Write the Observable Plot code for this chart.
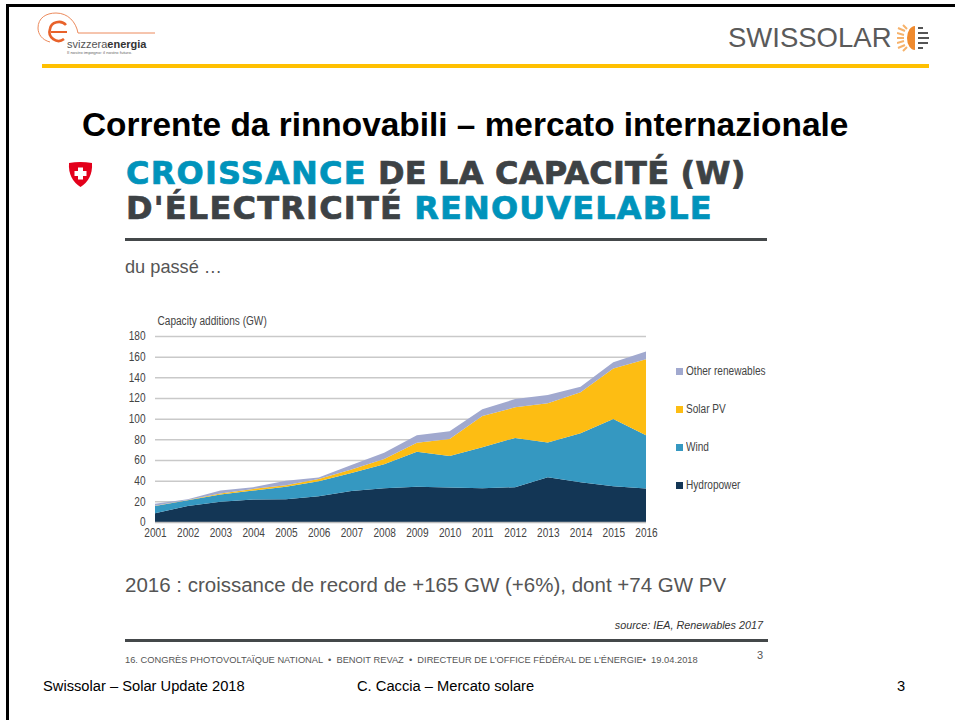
<!DOCTYPE html>
<html><head><meta charset="utf-8">
<script src="https://cdn.jsdelivr.net/npm/d3@7"></script>
<script src="https://cdn.jsdelivr.net/npm/@observablehq/plot@0.6"></script>
<style>
html,body{margin:0;padding:0;background:#fff;}
#page{position:relative;width:955px;height:720px;overflow:hidden;font-family:"Liberation Sans",Arial,sans-serif;background:#fff;}
#page>div,#page>svg{position:absolute;white-space:pre;}
.line{line-height:1;}
#chart{left:100px;top:310px;}
#chart svg{overflow:visible;}
.leg{font-size:12px;color:#444;line-height:12px;left:676px;}
.leg i{display:inline-block;width:7px;height:7px;margin-right:3px;vertical-align:0px;}
.leg span{display:inline-block;transform:scaleX(.84);transform-origin:left center;}
.hd{font-family:'DejaVu Sans';font-weight:700;font-size:32px;color:#3d4245;-webkit-text-stroke:.7px currentColor;}
.hd .b{color:#0093bb;}
</style></head><body>
<div id="page">
<div style="left:7px;top:4px;width:948px;height:3px;background:#000"></div>
<div style="left:6px;top:4px;width:3px;height:716px;background:#000"></div>

<svg style="left:36px;top:10px" width="130" height="48" viewBox="0 0 130 48">
<g fill="none" stroke="#ec8a5c">
<path d="M14 32 C6 30 2 24 2 18 C2 8 10 3 20 3 C32 3 40 12 42 23 H119" stroke-width="1"/>
<path d="M30 15 A9 8 0 0 0 14 19 A9 9 0 0 0 28 29" stroke="#e8622a" stroke-width="2.6"/>
<path d="M15 22 H31" stroke="#e8622a" stroke-width="2"/>
</g>
<text x="31" y="38" font-family="Liberation Sans" font-size="11" fill="#555">svizzera<tspan font-weight="700" fill="#333">energia</tspan></text>
<text x="31" y="44" font-family="Liberation Sans" font-size="4.4" fill="#666">Il nostro impegno: il nostro futuro.</text>
</svg>
<div class="line" style="left:42px;top:64px;width:887px;height:4px;background:#ffc000"></div>
<div class="line" style="left:728px;top:24px;font-size:27.5px;color:#5a5a5a">SWISSOLAR</div>
<svg style="left:897px;top:24px" width="34" height="28" viewBox="0 0 34 28">
<path d="M18 2 A8 12 0 0 0 18 26 Z" fill="#ef8a2e"/>
<g stroke="#f6b26b" stroke-width="2"><path d="M1 4 L8 7M0 9 L7 11M0 14 H7M0 19 L7 17M1 24 L8 21M6 1 L10 5M6 27 L10 23"/></g>
<g stroke="#555" stroke-width="2.2"><path d="M21 4 H26M21 9 H31M21 14 H32M21 19 H31M21 24 H26"/></g>
</svg>

<div class="line" style="left:82px;top:108px;font-size:33.4px;font-weight:700;color:#000">Corrente da rinnovabili – mercato internazionale</div>

<svg style="left:68px;top:161px" width="26" height="27" viewBox="0 0 26 27">
<path d="M1 2 Q12 0 24 2 Q25 18 12.5 26 Q0 18 1 2 Z" fill="#e3001b"/>
<path d="M10 7 H15 V10.500 H18.500 V15.500 H15 V19 H10 V15.500 H6.500 V10.500 H10 Z" fill="#fff" transform="translate(0,-.5)"/>
</svg>
<div class="line hd" style="left:126px;top:157px"><span class="b" style="letter-spacing:1.2px">CROISSANCE</span> <span style="letter-spacing:.2px">DE LA CAPACITÉ (W)</span></div>
<div class="line hd" style="left:126px;top:192px"><span style="letter-spacing:1.2px">D'ÉLECTRICITÉ</span> <span class="b" style="letter-spacing:1.15px">RENOUVELABLE</span></div>
<div style="left:125px;top:238px;width:642px;height:3px;background:#44484a"></div>
<div class="line" style="left:125px;top:258px;font-size:18.2px;color:#555">du passé …</div>

<div id="chart"></div>

<div class="line" style="left:125px;top:575px;font-size:20.5px;color:#555">2016 : croissance de record de +165 GW (+6%), dont +74 GW PV</div>
<div class="line" style="right:192px;top:620px;font-size:10.8px;font-style:italic;color:#333">source: IEA, Renewables 2017</div>
<div style="left:125px;top:639px;width:643px;height:3px;background:#44484a"></div>
<div class="line" style="left:125px;top:656px;font-size:9.3px;color:#555">16. CONGRÈS PHOTOVOLTAÏQUE NATIONAL  •  BENOIT REVAZ  •  DIRECTEUR DE L'OFFICE FÉDÉRAL DE L'ÉNERGIE•  19.04.2018</div>
<div class="line" style="left:757px;top:650px;font-size:11px;color:#555">3</div>
<div class="line" style="left:43px;top:679px;font-size:14.7px;color:#000">Swissolar – Solar Update 2018</div>
<div class="line" style="left:357px;top:679px;font-size:14.7px;color:#000">C. Caccia – Mercato solare</div>
<div class="line" style="left:897px;top:679px;font-size:14.7px;color:#000">3</div>
</div>
<script>
const years = [2001,2002,2003,2004,2005,2006,2007,2008,2009,2010,2011,2012,2013,2014,2015,2016];
const hydropower = [8.5,15.5,19.6,21.8,22,25,30,32.7,34,33.3,32.6,33.7,43.3,38.5,34.6,32.4];
const wind = [7,5.5,7,8.7,12,14.5,17.5,23.3,34,30.5,39.8,47.7,33.7,47.5,65,51.6];
const solarPV = [0.2,0.2,0.9,1.5,1.5,2,3.2,5,8.7,16.5,30.2,29.6,38,39.5,48.9,73.5];
const otherRenewables = [2,0.8,3,1.7,4.5,1.5,4.5,6,7.3,7.5,6.4,8,8,5.5,6,7.5];
const seriesNames = ["Hydropower","Wind","Solar PV","Other renewables"];
const seriesValues = [hydropower,wind,solarPV,otherRenewables];
const seriesColors = ["#133655","#3598c1","#fdbd13","#a1a9cf"];
const yTicks = [0,20,40,60,80,100,120,140,160,180];

const rows = seriesNames.flatMap((name,i)=>years.map((year,j)=>({year,name,value:seriesValues[i][j]})));

const chart = Plot.plot({
  width:570,height:235,marginLeft:55,marginRight:24,marginTop:26,marginBottom:23,
  style:{fontFamily:"Liberation Sans",fontSize:"12px",color:"#444",background:"transparent",overflow:"visible"},
  x:{domain:[2001,2016]},
  y:{domain:[0,180]},
  color:{domain:seriesNames,range:seriesColors},
  marks:[
    Plot.ruleY(yTicks.filter(d=>d>0),{stroke:"#c9c9c9",strokeWidth:1.5}),
    Plot.areaY(rows,{x:"year",y:"value",z:"name",fill:"name",order:seriesNames}),
    Plot.ruleY([0],{stroke:"#bdbdbd",strokeWidth:1.5}),
    Plot.axisX({ticks:years,tickFormat:"d",tickSize:0,tickPadding:6,label:null,fontSize:12}),
    Plot.axisY({ticks:yTicks,tickSize:0,tickPadding:10,label:null,fontSize:12}),
    Plot.text(["Capacity additions (GW)"],{frameAnchor:"top-left",dx:2,dy:-20,textAnchor:"start",fontSize:12,fill:"#444"})
  ]
});
const chartHost = document.getElementById("chart");
chartHost.appendChild(chart);
chart.querySelectorAll("text").forEach(t=>{
  t.setAttribute("textLength",(t.getComputedTextLength()*0.84).toFixed(2));
  t.setAttribute("lengthAdjust","spacingAndGlyphs");
});

const legendTops = {"Other renewables":365,"Solar PV":403,"Wind":441,"Hydropower":479};
const page = document.getElementById("page");
seriesNames.forEach((n,i)=>{
  const d=document.createElement("div");
  d.className="leg";d.style.top=legendTops[n]+"px";
  d.innerHTML=`<i style="background:${seriesColors[i]}"></i><span>${n}</span>`;
  page.appendChild(d);
});
</script>
</body></html>
